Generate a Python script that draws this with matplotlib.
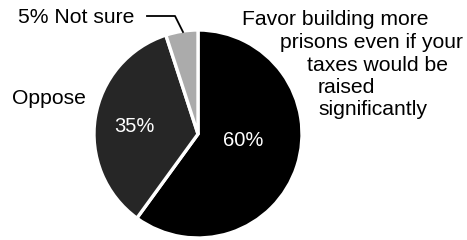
import matplotlib
matplotlib.use("Agg")
import matplotlib.pyplot as plt
from matplotlib.lines import Line2D

# data
categories = ["Favor", "Oppose", "Not sure"]
shares = [60, 35, 5]
slice_labels = ["60%", "35%", ""]
colors = ["#000000", "#262626", "#ababab"]

favor_lines = ["Favor building more", "prisons even if your",
               "taxes would be", "raised", "significantly"]
oppose_label = "Oppose"
notsure_label = "5% Not sure"

W, H = 467, 240
plt.rcParams['font.family'] = ['Liberation Sans', 'DejaVu Sans']

fig = plt.figure(figsize=(W / 100, H / 100), dpi=100)
fig.patch.set_facecolor("white")

# pie center at (198, 134) px from top-left, radius 104 px
cx, cy, r = 198, 134, 104
ax = fig.add_axes([(cx - r) / W, (H - cy - r) / H, 2 * r / W, 2 * r / H])

wedges, _ = ax.pie(shares, colors=colors, startangle=90, counterclock=False,
                   wedgeprops=dict(edgecolor="white", linewidth=2.4))
ax.set_xlim(-1, 1)
ax.set_ylim(-1, 1)
ax.axis("off")

# in-slice percentages (data units of the pie)
ax.text(0.43, -0.06, slice_labels[0], color="white", fontsize=14.5,
        ha="center", va="center")
ax.text(-0.61, 0.07, slice_labels[1], color="white", fontsize=14.5,
        ha="center", va="center")


def px(x, y):
    return x / W, 1 - y / H


fs = 15.2
# outside labels
fig.text(*px(49, 98), oppose_label, fontsize=fs, ha="center", va="center")
fig.text(*px(18, 23), notsure_label, fontsize=fs, ha="left", va="baseline")

# leader line for "Not sure"
xs, ys = zip(px(147, 16), px(175, 16), px(183, 32))
fig.add_artist(Line2D(xs, ys, color="black", linewidth=1.3))

# right hand text block, each line placed on its own
favor_x = [242, 280, 307, 318, 318]
favor_y = [25, 48, 71, 93, 115]
for t, x, y in zip(favor_lines, favor_x, favor_y):
    fig.text(*px(x, y), t, fontsize=fs, ha="left", va="baseline")

fig.savefig("out.png", dpi=100, facecolor="white")
